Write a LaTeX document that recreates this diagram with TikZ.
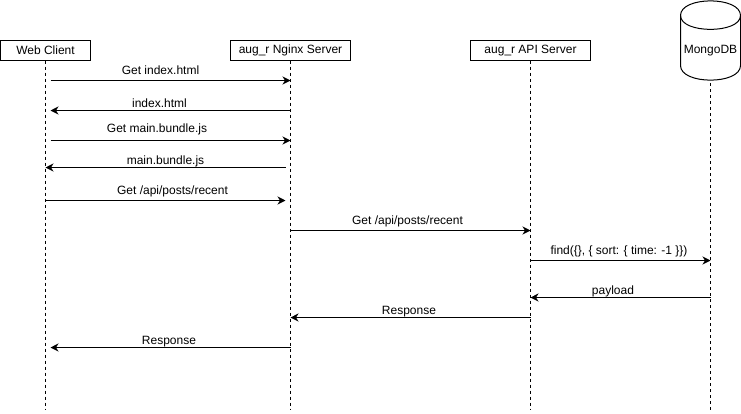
\documentclass[tikz,border=0pt]{standalone}
\usepackage{fontspec}
\setmainfont{Liberation Sans}
\usetikzlibrary{arrows.meta}

\tikzset{
  actor/.style={draw, minimum height=20pt, inner sep=0pt, font=\fontsize{12}{14}\selectfont},
  lifeline/.style={dash pattern=on 3pt off 3pt},
  msg/.style={-{Stealth[length=8pt,width=8pt,inset=2.5pt]}},
  msgtext/.style={anchor=base, inner sep=0pt, font=\fontsize{12}{14}\selectfont}
}

\begin{document}
\begin{tikzpicture}[x=1pt,y=-1pt,line width=1pt]
\useasboundingbox (0,0) rectangle (741,413);

\node[actor, minimum width=90pt] (web) at (45.5,50.5) {Web Client};
\node[actor, minimum width=120pt] (nginx) at (290.5,50.5) {aug\_r Nginx Server};
\node[actor, minimum width=120pt] (api) at (530.5,50.5) {aug\_r API Server};
\node[minimum width=60pt, minimum height=58pt, inner sep=0pt, font=\fontsize{12}{14}\selectfont] (mongo) at (710.5,51) {MongoDB};

% database outline
\draw (680.5,15.5) .. controls (680.5,-4) and (740.5,-4) .. (740.5,15.5)
  -- (740.5,65.5) .. controls (740.5,85) and (680.5,85) .. (680.5,65.5) -- cycle;
\draw (680.5,15.5) .. controls (680.5,34) and (740.5,34) .. (740.5,15.5);

% lifelines
\coordinate (webend) at (45.5,410);
\coordinate (nginxend) at (290.5,410);
\coordinate (apiend) at (530.5,410);
\coordinate (mongoend) at (710.5,410);
\coordinate (mongotop) at (710.5,83);
\draw[lifeline] (web) ++(0,10) -- (webend);
\draw[lifeline] (nginx) ++(0,10) -- (nginxend);
\draw[lifeline] (api) ++(0,10) -- (apiend);
\draw[lifeline] (mongotop) -- (mongoend);

% messages
\draw[msg] ([xshift=5pt]web |- 0,80.5) -- (nginx |- 0,80.5);
\draw[msg] (nginx |- 0,110.5) -- ([xshift=5pt]web |- 0,110.5);
\draw[msg] ([xshift=5pt]web |- 0,140.5) -- (nginx |- 0,140.5);
\draw[msg] ([xshift=-5pt]nginx |- 0,167.5) -- (web |- 0,167.5);
\draw[msg] (web |- 0,200.5) -- ([xshift=-5pt]nginx |- 0,200.5);
\draw[msg] (nginx |- 0,230.5) -- (api |- 0,230.5);
\draw[msg] (api |- 0,260.5) -- (mongotop |- 0,260.5);
\draw[msg] (mongotop |- 0,297.5) -- (api |- 0,297.5);
\draw[msg] (api |- 0,317.5) -- (nginx |- 0,317.5);
\draw[msg] (nginx |- 0,347.5) -- ([xshift=5pt]web |- 0,347.5);

\node[msgtext] (getindex) at (160.5,74) {Get index.html};
\node[msgtext] (index) at (159.5,107) {index.html};
\node[msgtext] (getbundle) at (157,132) {Get main.bundle.js};
\node[msgtext] (bundle) at (165.5,164) {main.bundle.js};
\node[msgtext] (getrecent) at (172.5,194) {Get /api/posts/recent};
\node[msgtext] (apirecent) at (407.5,224) {Get /api/posts/recent};
\node[msgtext] (find) at (619,254) {find(\{\}, \{ sort: \{ time: -1 \}\})};
\node[msgtext] (payload) at (613,294) {payload};
\node[msgtext] (apiresp) at (409,314) {Response};
\node[msgtext] (webresp) at (169,344) {Response};
\end{tikzpicture}
\end{document}
